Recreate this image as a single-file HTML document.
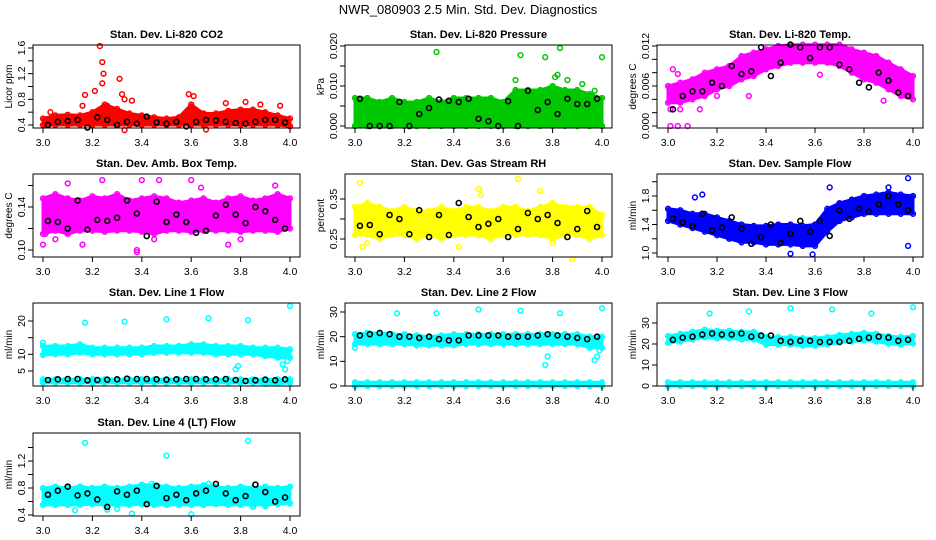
<!DOCTYPE html>
<html><head><meta charset="utf-8"><style>
body{margin:0;background:#fff;}
svg{display:block;font-family:"Liberation Sans",Arial,sans-serif;}
</style></head><body>
<svg id="chart" width="936" height="540" viewBox="0 0 936 540" xmlns="http://www.w3.org/2000/svg">
<rect width="936" height="540" fill="#fff"/>
<text x="468" y="14" text-anchor="middle" font-size="13">NWR_080903  2.5 Min. Std. Dev. Diagnostics</text>
</svg>
<script>
const xGrid=[3.00,3.05,3.10,3.15,3.20,3.25,3.30,3.35,3.40,3.45,3.50,3.55,3.60,3.65,3.70,3.75,3.80,3.85,3.90,3.95,4.00];
const blackX=[3.02,3.06,3.10,3.14,3.18,3.22,3.26,3.30,3.34,3.38,3.42,3.46,3.50,3.54,3.58,3.62,3.66,3.70,3.74,3.78,3.82,3.86,3.90,3.94,3.98];
const xTicks=[3.0,3.2,3.4,3.6,3.8,4.0];
const xTickLabels=["3.0","3.2","3.4","3.6","3.8","4.0"];

// P1 CO2
const co2Lo=[0.40,0.40,0.40,0.40,0.40,0.40,0.40,0.40,0.40,0.40,0.40,0.40,0.40,0.40,0.40,0.40,0.40,0.40,0.40,0.40,0.38];
const co2Hi=[0.50,0.55,0.56,0.55,0.60,0.72,0.65,0.58,0.55,0.52,0.50,0.52,0.72,0.58,0.58,0.62,0.64,0.64,0.60,0.55,0.50];
const co2OutX=[3.23,3.24,3.245,3.24,3.31,3.32,3.33,3.36,3.17,3.21,3.59,3.61,3.16,3.26,3.74,3.82,3.96,3.03,3.33,3.66,3.88];
const co2OutY=[1.63,1.38,1.2,1.05,1.12,0.88,0.8,0.78,0.87,0.93,0.88,0.85,0.7,0.7,0.74,0.76,0.70,0.6,0.32,0.33,0.72];
const co2Black=[0.40,0.45,0.46,0.48,0.36,0.52,0.48,0.40,0.45,0.42,0.53,0.44,0.42,0.45,0.38,0.45,0.48,0.47,0.45,0.43,0.42,0.45,0.48,0.48,0.44];
// P2 Pressure
const presLo=[0,0,0,0,0,0,0,0,0,0,0,0,0,0,0,0,0,0,0,0,0];
const presHi=[0.007,0.007,0.006,0.007,0.006,0.006,0.007,0.006,0.007,0.007,0.007,0.007,0.006,0.009,0.009,0.009,0.010,0.009,0.009,0.008,0.007];
const presOutX=[3.33,3.67,3.77,3.83,4.0,3.82,3.81,3.65,3.86,3.92,3.97];
const presOutY=[0.0185,0.0177,0.0172,0.0195,0.0172,0.0128,0.0122,0.0115,0.0115,0.0105,0.0088];
const presBlack=[0.0068,0,0,0,0.006,0,0.003,0.0045,0.0066,0.0063,0.006,0.0068,0.0018,0.0012,0,0.0062,0,0.0088,0.0040,0.006,0.0030,0.0068,0.0055,0.0055,0.0068];
// P3 Li-820 Temp
const ltLo=[0.0035,0.0035,0.0040,0.0045,0.0055,0.0060,0.0070,0.0075,0.0085,0.0090,0.0095,0.0095,0.0095,0.0095,0.0090,0.0080,0.0070,0.0065,0.0055,0.0045,0.0040];
const ltHi=[0.0060,0.0065,0.0070,0.0080,0.0085,0.0090,0.0105,0.0110,0.0115,0.0120,0.0122,0.0122,0.0122,0.0122,0.0122,0.0115,0.0110,0.0105,0.0095,0.0085,0.0075];
const ltOutX=[3.01,3.04,3.08,3.02,3.04,3.33,3.20,3.62,3.88,3.01,3.05,3.13];
const ltOutY=[0,0,0,0.0085,0.0078,0.0045,0.0045,0.0077,0.0038,0.0025,0.0025,0.0025];
const ltBlack=[0.0025,0.0045,0.0052,0.0052,0.0065,0.006,0.009,0.0078,0.0082,0.0118,0.0075,0.0095,0.0122,0.0118,0.0102,0.0118,0.0118,0.0092,0.0085,0.0065,0.0058,0.008,0.0068,0.0050,0.0045];
// P4 Amb box temp
const abLo=[0.115,0.118,0.115,0.118,0.118,0.117,0.118,0.118,0.117,0.115,0.118,0.118,0.117,0.118,0.118,0.118,0.117,0.118,0.118,0.117,0.120];
const abHi=[0.148,0.152,0.148,0.146,0.150,0.148,0.152,0.146,0.148,0.150,0.148,0.144,0.146,0.148,0.144,0.148,0.150,0.146,0.148,0.152,0.148];
const abOutX=[3.0,3.1,3.24,3.4,3.47,3.38,3.38,3.6,3.75,3.64,3.01,3.16,3.05,3.94,3.45,3.8];
const abOutY=[0.105,0.162,0.165,0.165,0.165,0.098,0.10,0.165,0.105,0.158,0.115,0.105,0.11,0.16,0.11,0.11];
const abBlack=[0.127,0.126,0.12,0.146,0.119,0.128,0.127,0.13,0.146,0.134,0.113,0.145,0.126,0.133,0.126,0.116,0.118,0.132,0.142,0.133,0.125,0.14,0.136,0.128,0.12];
// P5 Gas RH
const rhLo=[0.26,0.26,0.25,0.26,0.26,0.25,0.26,0.25,0.26,0.26,0.26,0.25,0.26,0.26,0.26,0.26,0.25,0.26,0.26,0.25,0.26];
const rhHi=[0.33,0.34,0.33,0.32,0.33,0.32,0.32,0.33,0.32,0.33,0.33,0.32,0.33,0.33,0.32,0.33,0.34,0.33,0.33,0.33,0.31];
const rhOutX=[3.02,3.66,3.88,3.42,3.51,3.50,3.05,3.03,3.80,3.75];
const rhOutY=[0.39,0.40,0.20,0.23,0.36,0.375,0.24,0.23,0.24,0.37];
const rhBlack=[0.283,0.285,0.262,0.31,0.3,0.262,0.322,0.255,0.31,0.26,0.34,0.305,0.28,0.288,0.3,0.255,0.275,0.315,0.3,0.31,0.29,0.255,0.275,0.32,0.28];
// P6 Sample flow
const sfLo=[1.45,1.40,1.35,1.30,1.25,1.20,1.15,1.15,1.12,1.12,1.12,1.10,1.10,1.30,1.45,1.50,1.55,1.55,1.55,1.55,1.55];
const sfHi=[1.62,1.60,1.55,1.55,1.50,1.45,1.40,1.38,1.38,1.40,1.40,1.38,1.40,1.62,1.70,1.75,1.80,1.82,1.85,1.82,1.80];
const sfOutX=[3.11,3.14,3.66,3.98,3.98,3.59,3.50,3.90];
const sfOutY=[1.78,1.82,1.92,2.05,1.10,0.98,0.99,1.92];
const sfBlack=[1.48,1.43,1.38,1.55,1.32,1.36,1.5,1.34,1.13,1.22,1.4,1.14,1.27,1.45,1.3,1.45,1.24,1.6,1.48,1.62,1.58,1.68,1.8,1.68,1.6];
// P7 Line 1
const l1Lo=[9.8,10,10,10.5,10,10,10,10,10,10.5,10.5,10.5,10.5,10.5,10,10,10,10,9.5,9,9];
const l1Hi=[12.5,12.5,12.5,13,12,12,12,12,12,12.5,12.5,12.5,13,13,12.5,12.5,12.5,12,12,12,11.5];
const l1Lo2=[1.5,1.5,1.5,1.5,1.5,1.5,1.5,1.5,1.5,1.5,1.5,1.5,1.5,1.5,1.5,1.5,1.5,1.5,1.2,1.2,1.5];
const l1Hi2=[2.5,2.5,2.5,2.5,2.5,2.5,2.5,2.5,2.5,2.5,2.5,2.5,2.5,2.5,2.5,2.5,2.5,2.5,2.5,2.5,2.5];
const l1OutX=[3.0,3.17,3.33,3.5,3.67,3.83,4.0,3.78,3.79,3.98,3.99,3.97];
const l1OutY=[13.5,19.5,19.8,20.5,20.8,20.2,24.5,5.5,6.5,5.5,8,7];
const l1Black=[2.3,2.5,2.6,2.6,2.2,2.3,2.4,2.5,2.7,2.6,2.6,2.5,2.4,2.5,2.6,2.6,2.5,2.5,2.6,2.3,2.0,2.2,2.4,2.2,2.5];
// P8 Line 2
const l2Lo=[17,17,17,17,17,16.5,16.5,16.5,16.5,17,17,17,17,17,17,17,17,17,17,15.5,15.5];
const l2Hi=[21,21.5,21.5,21,21,20.5,20,20.5,21,21,21,21,21,21,21,21,21,21,21,20,20];
const l2Lo2=[0,0,0,0,0,0,0,0,0,0,0,0,0,0,0,0,0,0,0,0,0];
const l2Hi2=[1.5,1.5,1.5,1.5,1.5,1.5,1.5,1.5,1.5,1.5,1.5,1.5,1.5,1.5,1.5,1.5,1.5,1.5,1.5,1.5,1.5];
const l2OutX=[3.0,3.17,3.33,3.5,3.67,3.83,4.0,3.77,3.78,3.97,3.98,3.99];
const l2OutY=[15.5,29.5,29.5,31,30.5,29.5,31.5,8.5,12,10.5,12,14.5];
const l2Black=[20.5,21,21.5,21,20,20,19.5,20,19,18.5,18.5,20.5,20.5,20.5,20.5,20,20,20,20.5,21,20.5,20,19.5,19,20];
// P9 Line 3
const l3Lo=[20.5,21.2,22.2,23.2,22.7,22.7,22.2,22.2,19.7,19.7,19.7,19.2,19.2,19.7,20.7,21.2,21.7,21.2,20.2,19.7,20.2];
const l3Hi=[23.8,24.8,25.8,26.8,26.3,26.3,25.8,25.8,23.3,23.3,23.3,22.8,22.8,23.3,24.3,24.8,25.3,24.8,23.8,23.3,23.8];
const l3Lo2=[0,0,0,0,0,0,0,0,0,0,0,0,0,0,0,0,0,0,0,0,0];
const l3Hi2=[1.8,1.8,1.8,1.8,1.8,1.8,1.8,1.8,1.8,1.8,1.8,1.8,1.8,1.8,1.8,1.8,1.8,1.8,1.8,1.8,1.8];
const l3OutX=[3.17,3.33,3.5,3.67,3.83,4.0];
const l3OutY=[34.5,35.5,37,36.5,34.5,37.5];
const l3Black=[22,23,23.5,24.5,25,24.5,24.5,25,23.5,24,24,21.5,21,21.5,21.5,21,21,21,21.5,22.5,23,23.5,23,21.5,22];
// P10 Line 4
const l4Lo=[0.55,0.55,0.55,0.55,0.56,0.55,0.55,0.55,0.56,0.55,0.55,0.55,0.55,0.55,0.56,0.55,0.55,0.55,0.55,0.56,0.57];
const l4Hi=[0.80,0.82,0.80,0.82,0.80,0.82,0.80,0.82,0.85,0.84,0.82,0.80,0.82,0.84,0.82,0.80,0.82,0.80,0.82,0.80,0.82];
const l4OutX=[3.17,3.5,3.83,3.36,3.6,3.13,3.26,3.3,3.85,3.9,3.44,3.67];
const l4OutY=[1.47,1.28,1.5,0.42,0.41,0.47,0.48,0.49,0.52,0.53,0.86,0.86];
const l4Black=[0.7,0.76,0.82,0.69,0.72,0.63,0.52,0.75,0.7,0.76,0.56,0.83,0.65,0.7,0.62,0.72,0.76,0.86,0.72,0.62,0.68,0.85,0.74,0.6,0.66];

const NS="http://www.w3.org/2000/svg";
const svg=document.getElementById('chart');
const cols=[{l:33,r:300,x0:43,x1:290},{l:345,r:612,x0:355,x1:602},{l:657,r:923,x0:668,x1:913}];
const rowTop=[45,174,303,433];
const H=83;
function mk(tag,attrs,parent){const e=document.createElementNS(NS,tag);for(const k in attrs)e.setAttribute(k,attrs[k]);(parent||svg).appendChild(e);return e;}

const panels=[
 {name:'co2',title:'Stan. Dev. Li-820 CO2',ylab:'Licor ppm',col:0,row:0,color:'#ff0000',v1:0.4,p1:80,v2:1.6,p2:3,ticks:[0.4,0.6,0.8,1.0,1.2,1.4,1.6],labels:{'0.4':'0.4','0.8':'0.8','1.2':'1.2','1.6':'1.6'},bands:[[co2Lo,co2Hi]],ox:co2OutX,oy:co2OutY,bk:co2Black},
 {name:'pressure',title:'Stan. Dev. Li-820 Pressure',ylab:'kPa',col:1,row:0,color:'#00c800',v1:0,p1:81,v2:0.02,p2:1,ticks:[0,0.005,0.01,0.015,0.02],labels:{'0':'0.000','0.01':'0.010','0.02':'0.020'},bands:[[presLo,presHi]],ox:presOutX,oy:presOutY,bk:presBlack},
 {name:'li820-temp',title:'Stan. Dev. Li-820 Temp.',ylab:'degrees C',col:2,row:0,color:'#ff00ff',v1:0,p1:81,v2:0.012,p2:1,ticks:[0,0.002,0.004,0.006,0.008,0.01,0.012],labels:{'0':'0.000','0.006':'0.006','0.012':'0.012'},bands:[[ltLo,ltHi]],ox:ltOutX,oy:ltOutY,bk:ltBlack},
 {name:'amb-box-temp',title:'Stan. Dev. Amb. Box Temp.',ylab:'degrees C',col:0,row:1,color:'#ff00ff',v1:0.10,p1:76,v2:0.14,p2:33,ticks:[0.10,0.12,0.14,0.16],labels:{'0.1':'0.10','0.14':'0.14'},bands:[[abLo,abHi]],ox:abOutX,oy:abOutY,bk:abBlack},
 {name:'gas-rh',title:'Stan. Dev. Gas Stream RH',ylab:'percent',col:1,row:1,color:'#ffff00',v1:0.25,p1:65,v2:0.35,p2:25,ticks:[0.25,0.30,0.35],labels:{'0.25':'0.25','0.35':'0.35'},bands:[[rhLo,rhHi]],ox:rhOutX,oy:rhOutY,bk:rhBlack},
 {name:'sample-flow',title:'Stan. Dev. Sample Flow',ylab:'ml/min',col:2,row:1,color:'#0000ff',v1:1.0,p1:79,v2:1.8,p2:22,ticks:[1.0,1.2,1.4,1.6,1.8,2.0],labels:{'1':'1.0','1.4':'1.4','1.8':'1.8'},bands:[[sfLo,sfHi]],ox:sfOutX,oy:sfOutY,bk:sfBlack},
 {name:'line1-flow',title:'Stan. Dev. Line 1 Flow',ylab:'ml/min',col:0,row:2,color:'#00ffff',v1:5,p1:68,v2:20,p2:18,ticks:[5,10,15,20],labels:{'5':'5','10':'10','20':'20'},bands:[[l1Lo,l1Hi],[l1Lo2,l1Hi2]],ox:l1OutX,oy:l1OutY,bk:l1Black},
 {name:'line2-flow',title:'Stan. Dev. Line 2 Flow',ylab:'ml/min',col:1,row:2,color:'#00ffff',v1:0,p1:83,v2:30,p2:9,ticks:[0,10,20,30],labels:{'0':'0','10':'10','20':'20','30':'30'},bands:[[l2Lo,l2Hi],[l2Lo2,l2Hi2]],ox:l2OutX,oy:l2OutY,bk:l2Black},
 {name:'line3-flow',title:'Stan. Dev. Line 3 Flow',ylab:'ml/min',col:2,row:2,color:'#00ffff',v1:0,p1:83,v2:30,p2:20,ticks:[0,10,20,30],labels:{'0':'0','10':'10','20':'20','30':'30'},bands:[[l3Lo,l3Hi],[l3Lo2,l3Hi2]],ox:l3OutX,oy:l3OutY,bk:l3Black},
 {name:'line4-flow',title:'Stan. Dev. Line 4 (LT) Flow',ylab:'ml/min',col:0,row:3,color:'#00ffff',v1:0.4,p1:82,v2:1.2,p2:28,ticks:[0.4,0.6,0.8,1.0,1.2,1.4],labels:{'0.4':'0.4','0.8':'0.8','1.2':'1.2'},bands:[[l4Lo,l4Hi]],ox:l4OutX,oy:l4OutY,bk:l4Black}
];

panels.forEach(p=>{
  const c=cols[p.col], top=rowTop[p.row], bot=top+H;
  const xs=v=>c.x0+(v-3)*(c.x1-c.x0);
  const ys=v=>top+p.p1+(v-p.v1)*(p.p2-p.p1)/(p.v2-p.v1);
  const g=mk('g',{});
  
  
  const t=mk('text',{x:(c.l+c.r)/2,y:top-7,'text-anchor':'middle','font-size':'11','font-weight':'bold'},g);
  t.textContent=p.title;
  
  
  const yl=mk('text',{x:0,y:0,'text-anchor':'middle','font-size':'10',transform:`translate(${c.l-21},${top+H/2}) rotate(-90)`},g);
  yl.textContent=p.ylab;
  
  
  const dg=mk('g',{},g);
  
  
  p.bands.forEach(b=>{
    const lo=b[0],hi=b[1];
    let d='';
    xGrid.forEach((x,i)=>{d+=(i?'L':'M')+xs(x).toFixed(1)+','+ys(hi[i]).toFixed(1);});
    for(let i=xGrid.length-1;i>=0;i--)d+='L'+xs(xGrid[i]).toFixed(1)+','+ys(lo[i]).toFixed(1);
    const band=mk('path',{d:d+'Z',fill:p.color,stroke:p.color,'stroke-width':'3','stroke-linejoin':'round'},dg);
    
    
    xGrid.forEach((x,i)=>{
      [lo[i],hi[i]].forEach(v=>{
        const pt=mk('circle',{cx:xs(x),cy:ys(v),r:2.4,fill:'none',stroke:p.color,'stroke-width':1.5},dg);
        
        
      });
    });
  });
  p.ox.forEach((x,i)=>{
    const pt=mk('circle',{cx:xs(x),cy:ys(p.oy[i]),r:2.4,fill:'none',stroke:p.color,'stroke-width':1.5},dg);
    
    
  });
  p.bk.forEach((v,i)=>{
    const pt=mk('circle',{cx:xs(blackX[i]),cy:ys(v),r:2.5,fill:'none',stroke:'#000','stroke-width':1.6},dg);
    
    
  });
  const box=mk('rect',{x:c.l,y:top,width:c.r-c.l,height:H,fill:'none',stroke:'#000','stroke-width':1},g);
  
  
  const xa=mk('g',{},g);
  
  
  mk('line',{x1:xs(3),x2:xs(4),y1:bot,y2:bot,stroke:'#000'},xa);
  xTicks.forEach((v,i)=>{
    mk('line',{x1:xs(v),x2:xs(v),y1:bot,y2:bot+5,stroke:'#000'},xa);
    const tl=mk('text',{x:xs(v),y:bot+18,'text-anchor':'middle','font-size':'10.5'},xa);
    tl.textContent=xTickLabels[i];
    
    
  });
  const ya=mk('g',{},g);
  
  
  mk('line',{x1:c.l,x2:c.l,y1:ys(p.ticks[0]),y2:ys(p.ticks[p.ticks.length-1]),stroke:'#000'},ya);
  p.ticks.forEach(v=>{
    mk('line',{x1:c.l-5,x2:c.l,y1:ys(v),y2:ys(v),stroke:'#000'},ya);
    const key=String(+v.toFixed(4));
    if(p.labels[key]!==undefined){
      const tl=mk('text',{x:0,y:0,'text-anchor':'middle','font-size':'10.5',transform:`translate(${c.l-8},${ys(v)}) rotate(-90)`},ya);
      tl.textContent=p.labels[key];
      
      
    }
  });
});
</script>
</body></html>
